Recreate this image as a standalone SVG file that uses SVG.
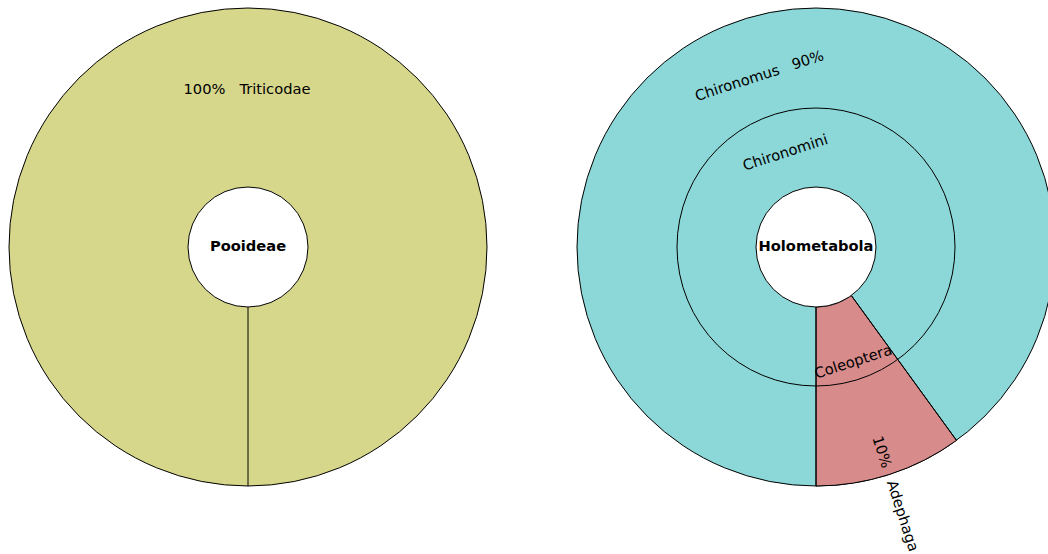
<svg xmlns="http://www.w3.org/2000/svg" width="1048" height="554" viewBox="0 0 1048 554">
<style>
  .s { stroke: #000; stroke-width: 1; }
  .lbl { font-family: "DejaVu Sans", sans-serif; font-size: 14.67px; fill: #000; dominant-baseline: central; }
  .ctr { font-family: "DejaVu Sans", sans-serif; font-size: 14.67px; font-weight: bold; fill: #000; text-anchor: middle; dominant-baseline: central; }
</style>
<rect width="1048" height="554" fill="#fff"/>
<g id="pooideae-chart">
  <g id="triticodae">
    <circle class="s" cx="248" cy="247" r="239" fill="#d7d78c"/>
  </g>
  <g id="connectors-left">
    <line class="s" x1="248" y1="307" x2="248" y2="486"/>
  </g>
  <g id="pooideae">
    <circle class="s" cx="248" cy="247" r="60" fill="#fff"/>
    <text class="ctr" x="248" y="245.5">Pooideae</text>
  </g>
  <text class="lbl" x="247" y="88" text-anchor="middle" xml:space="preserve">100%   Triticodae</text>
</g>
<g id="holometabola-chart">
  <g id="chironomus">
    <circle class="s" cx="816" cy="247" r="239" fill="#8cd7d7"/>
  </g>
  <g id="adephaga">
    <path class="s" d="M816 307 L816 486 A239 239 0 0 0 956.5 440.4 L851.3 295.5 A60 60 0 0 1 816 307 Z" fill="#d78b8b"/>
  </g>
  <g id="chironomini-ring">
    <circle class="s" cx="816" cy="247" r="139" fill="none"/>
  </g>
  <g id="connectors-right">
    <line class="s" x1="816" y1="307" x2="816" y2="486"/>
    <line class="s" x1="851.3" y1="295.5" x2="956.5" y2="440.4"/>
  </g>
  <g id="holometabola">
    <circle class="s" cx="816" cy="247" r="60" fill="#fff"/>
    <text class="ctr" x="816" y="245.5">Holometabola</text>
  </g>
  <text class="lbl" text-anchor="middle" transform="translate(816,247) rotate(-18) translate(-1,-181)" xml:space="preserve">Chironomus   90%</text>
  <text class="lbl" text-anchor="middle" transform="translate(816,247) rotate(-18) translate(0,-100)">Chironomini</text>
  <text class="lbl" text-anchor="middle" transform="translate(816,247) rotate(-18) translate(0,120)">Coleoptera</text>
  <text class="lbl" text-anchor="start" transform="translate(816,247) rotate(72) translate(199,0)" xml:space="preserve">10%   Adephaga</text>
</g>
</svg>
